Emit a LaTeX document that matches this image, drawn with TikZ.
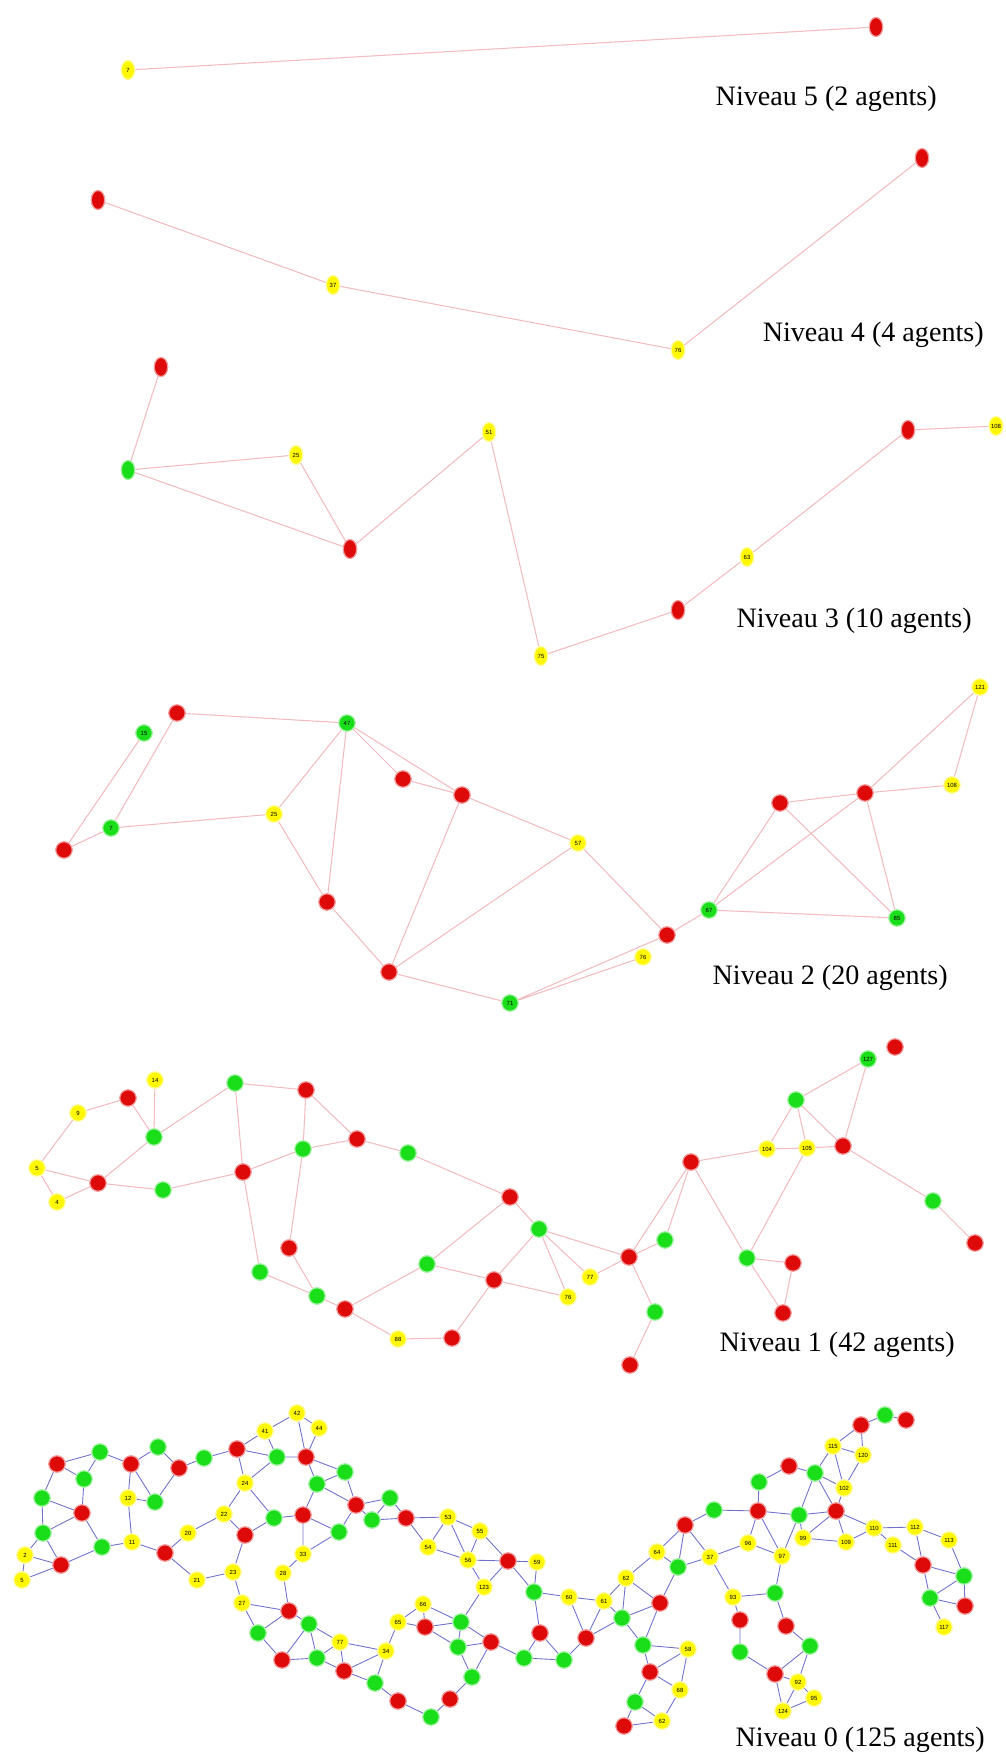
\documentclass[tikz,border=0pt]{standalone}
\usepackage{fontspec}
\setmainfont{Liberation Serif}
\setsansfont{Liberation Sans}
\usetikzlibrary{shapes.geometric, backgrounds}

\definecolor{agentred}{RGB}{222,10,10}
\definecolor{agentgreen}{RGB}{25,222,25}
\definecolor{agentyellow}{RGB}{255,248,0}
\definecolor{linkpink}{RGB}{242,188,192}
\definecolor{linkblue}{RGB}{112,112,205}

\begin{document}
\begin{tikzpicture}[
  x=0.02cm, y=-0.02cm,
  agent/.style={
    circle,
    inner sep=0pt,
    minimum size=0.33cm,
    line width=0.7pt,
    font=\sffamily\fontsize{3.4}{3.4}\selectfont
  },
  rouge/.style={agent, fill=agentred, draw=agentred!40},
  vert/.style={agent, fill=agentgreen, draw=agentgreen!40},
  jaune/.style={agent, fill=agentyellow, draw=agentyellow!40},
  haut/.style={ellipse, minimum width=0.27cm, minimum height=0.38cm},
  lienrose/.style={draw=linkpink, line width=0.6pt},
  lienbleu/.style={draw=linkblue, line width=0.5pt},
  niveau/.style={anchor=east, inner sep=0pt, font=\fontsize{16}{18}\selectfont}
]
\useasboundingbox (0,0) rectangle (1005,1757);

% Niveau 5
\node[jaune, haut] (n5-7) at (128,70) {7};
\node[rouge, haut] (n5-r1) at (876,27) {};
\node[niveau] (titre5) at (937,99) {Niveau 5 (2 agents)};

% Niveau 4
\node[rouge, haut] (n4-r1) at (98,200) {};
\node[jaune, haut] (n4-37) at (333,285) {37};
\node[jaune, haut] (n4-76) at (678,350) {76};
\node[rouge, haut] (n4-r2) at (922,158) {};
\node[niveau] (titre4) at (984,335) {Niveau 4 (4 agents)};

% Niveau 3
\node[rouge, haut] (n3-r1) at (161,367) {};
\node[vert, haut] (n3-g1) at (128,470) {};
\node[jaune, haut] (n3-25) at (296,455) {25};
\node[rouge, haut] (n3-r2) at (350,549) {};
\node[jaune, haut] (n3-51) at (489,432) {51};
\node[jaune, haut] (n3-75) at (541,656) {75};
\node[rouge, haut] (n3-r3) at (678,610) {};
\node[jaune, haut] (n3-63) at (747,557) {63};
\node[rouge, haut] (n3-r4) at (908,430) {};
\node[jaune, haut] (n3-108) at (996,426) {108};
\node[niveau] (titre3) at (972,621) {Niveau 3 (10 agents)};

% Niveau 2
\node[rouge] (n2-r1) at (177,713) {};
\node[vert] (n2-15) at (144,733) {15};
\node[vert] (n2-7) at (111,828) {7};
\node[rouge] (n2-r2) at (64,850) {};
\node[jaune] (n2-25) at (274,814) {25};
\node[vert] (n2-47) at (347,723) {47};
\node[rouge] (n2-r3) at (403,779) {};
\node[rouge] (n2-r4) at (462,795) {};
\node[rouge] (n2-r5) at (327,902) {};
\node[rouge] (n2-r6) at (389,972) {};
\node[vert] (n2-71) at (510,1003) {71};
\node[jaune] (n2-57) at (578,843) {57};
\node[rouge] (n2-r7) at (667,935) {};
\node[jaune] (n2-76) at (643,957) {76};
\node[vert] (n2-67) at (709,910) {67};
\node[rouge] (n2-r8) at (780,803) {};
\node[rouge] (n2-r9) at (865,793) {};
\node[jaune] (n2-108) at (952,785) {108};
\node[jaune] (n2-121) at (980,687) {121};
\node[vert] (n2-85) at (897,918) {85};
\node[niveau] (titre2) at (948,978) {Niveau 2 (20 agents)};

% Niveau 1
\node[jaune] (n1-14) at (155,1080) {14};
\node[rouge] (n1-r1) at (128,1098) {};
\node[jaune] (n1-9) at (78,1113) {9};
\node[vert] (n1-g1) at (154,1137) {};
\node[jaune] (n1-5) at (37,1168) {5};
\node[rouge] (n1-r2) at (98,1183) {};
\node[jaune] (n1-4) at (57,1202) {4};
\node[vert] (n1-g2) at (163,1190) {};
\node[vert] (n1-g3) at (235,1083) {};
\node[rouge] (n1-r3) at (306,1090) {};
\node[vert] (n1-g4) at (303,1149) {};
\node[rouge] (n1-r4) at (357,1139) {};
\node[vert] (n1-g5) at (408,1153) {};
\node[rouge] (n1-r5) at (243,1172) {};
\node[rouge] (n1-r6) at (510,1197) {};
\node[rouge] (n1-r7) at (289,1248) {};
\node[vert] (n1-g6) at (260,1272) {};
\node[vert] (n1-g7) at (317,1296) {};
\node[rouge] (n1-r8) at (345,1309) {};
\node[jaune] (n1-88) at (398,1339) {88};
\node[rouge] (n1-r9) at (452,1338) {};
\node[vert] (n1-g8) at (427,1264) {};
\node[rouge] (n1-r10) at (494,1280) {};
\node[vert] (n1-g9) at (539,1229) {};
\node[jaune] (n1-77) at (590,1277) {77};
\node[jaune] (n1-76) at (568,1297) {76};
\node[rouge] (n1-r11) at (629,1257) {};
\node[vert] (n1-g10) at (665,1240) {};
\node[vert] (n1-g11) at (655,1312) {};
\node[rouge] (n1-r12) at (630,1365) {};
\node[rouge] (n1-r13) at (691,1162) {};
\node[jaune] (n1-104) at (767,1149) {104};
\node[jaune] (n1-105) at (807,1148) {105};
\node[rouge] (n1-r14) at (843,1146) {};
\node[vert] (n1-g12) at (796,1100) {};
\node[vert] (n1-127) at (868,1059) {127};
\node[rouge] (n1-r15) at (895,1047) {};
\node[vert] (n1-g14) at (933,1201) {};
\node[rouge] (n1-r16) at (975,1243) {};
\node[vert] (n1-g15) at (747,1258) {};
\node[rouge] (n1-r17) at (793,1263) {};
\node[rouge] (n1-r18) at (783,1313) {};
\node[niveau] (titre1) at (955,1345) {Niveau 1 (42 agents)};

% Niveau 0, bloc gauche
\node[rouge] (n0-r1) at (57,1464) {};
\node[vert] (n0-g1) at (100,1452) {};
\node[vert] (n0-g2) at (84,1479) {};
\node[rouge] (n0-r2) at (131,1464) {};
\node[vert] (n0-g3) at (158,1447) {};
\node[rouge] (n0-r3) at (179,1468) {};
\node[vert] (n0-g4) at (204,1458) {};
\node[rouge] (n0-r4) at (237,1449) {};
\node[vert] (n0-g5) at (42,1498) {};
\node[rouge] (n0-r5) at (82,1513) {};
\node[jaune] (n0-12) at (128,1498) {12};
\node[vert] (n0-g6) at (155,1502) {};
\node[vert] (n0-g7) at (43,1533) {};
\node[jaune] (n0-2) at (25,1555) {2};
\node[rouge] (n0-r6) at (61,1565) {};
\node[jaune] (n0-5) at (22,1580) {5};
\node[vert] (n0-g8) at (102,1547) {};
\node[jaune] (n0-11) at (132,1542) {11};
\node[rouge] (n0-r7) at (165,1553) {};
\node[jaune] (n0-20) at (188,1533) {20};
\node[jaune] (n0-22) at (224,1514) {22};
\node[jaune] (n0-24) at (245,1483) {24};
\node[rouge] (n0-r8) at (245,1535) {};
\node[jaune] (n0-21) at (197,1580) {21};
\node[jaune] (n0-23) at (233,1572) {23};
\node[jaune] (n0-27) at (242,1603) {27};
\node[vert] (n0-g9) at (258,1633) {};

% Niveau 0, bloc central gauche
\node[jaune] (n0-42) at (297,1413) {42};
\node[jaune] (n0-41) at (265,1431) {41};
\node[jaune] (n0-44) at (319,1428) {44};
\node[vert] (n0-g10) at (277,1457) {};
\node[rouge] (n0-r9) at (306,1457) {};
\node[vert] (n0-g11) at (345,1472) {};
\node[vert] (n0-g12) at (317,1484) {};
\node[rouge] (n0-r10) at (356,1505) {};
\node[vert] (n0-g13) at (390,1498) {};
\node[vert] (n0-g14) at (274,1518) {};
\node[rouge] (n0-r11) at (303,1515) {};
\node[vert] (n0-g15) at (372,1520) {};
\node[vert] (n0-g16) at (339,1532) {};
\node[rouge] (n0-r12) at (406,1518) {};
\node[jaune] (n0-53) at (448,1517) {53};
\node[jaune] (n0-55) at (480,1531) {55};
\node[jaune] (n0-54) at (428,1547) {54};
\node[jaune] (n0-56) at (468,1560) {56};
\node[rouge] (n0-r13) at (508,1561) {};
\node[jaune] (n0-123) at (484,1587) {123};
\node[jaune] (n0-33) at (303,1554) {33};
\node[jaune] (n0-28) at (283,1573) {28};
\node[rouge] (n0-r14) at (289,1611) {};
\node[vert] (n0-g17) at (309,1624) {};
\node[jaune] (n0-77) at (340,1642) {77};
\node[jaune] (n0-34) at (386,1651) {34};
\node[jaune] (n0-65) at (398,1622) {65};
\node[jaune] (n0-66) at (423,1604) {66};
\node[rouge] (n0-r15) at (425,1627) {};
\node[vert] (n0-g18) at (461,1622) {};
\node[rouge] (n0-r16) at (491,1642) {};
\node[vert] (n0-g19) at (458,1647) {};
\node[rouge] (n0-r17) at (282,1660) {};
\node[vert] (n0-g20) at (317,1658) {};
\node[rouge] (n0-r18) at (344,1671) {};
\node[vert] (n0-g21) at (375,1683) {};
\node[vert] (n0-g22) at (472,1677) {};
\node[rouge] (n0-r19) at (398,1701) {};
\node[rouge] (n0-r20) at (450,1699) {};
\node[vert] (n0-g23) at (431,1717) {};

% Niveau 0, bloc central droit
\node[jaune] (n0-59) at (537,1562) {59};
\node[vert] (n0-g24) at (534,1592) {};
\node[jaune] (n0-60) at (569,1597) {60};
\node[jaune] (n0-61) at (604,1601) {61};
\node[jaune] (n0-62) at (626,1578) {62};
\node[jaune] (n0-64) at (657,1552) {64};
\node[rouge] (n0-r21) at (685,1525) {};
\node[vert] (n0-g25) at (714,1510) {};
\node[vert] (n0-g26) at (678,1567) {};
\node[jaune] (n0-37) at (710,1557) {37};
\node[rouge] (n0-r22) at (660,1603) {};
\node[vert] (n0-g27) at (622,1618) {};
\node[rouge] (n0-r23) at (540,1633) {};
\node[rouge] (n0-r24) at (586,1638) {};
\node[vert] (n0-g28) at (524,1658) {};
\node[vert] (n0-g29) at (564,1660) {};
\node[vert] (n0-g30) at (643,1645) {};
\node[jaune] (n0-58) at (688,1649) {58};
\node[rouge] (n0-r25) at (650,1672) {};
\node[jaune] (n0-68) at (680,1690) {68};
\node[vert] (n0-g31) at (635,1702) {};
\node[jaune] (n0-62b) at (662,1721) {62};
\node[rouge] (n0-r26) at (624,1726) {};
\node[vert] (n0-g32) at (759,1482) {};
\node[rouge] (n0-r27) at (758,1511) {};
\node[jaune] (n0-96) at (748,1543) {96};
\node[jaune] (n0-93) at (733,1597) {93};
\node[rouge] (n0-r28) at (740,1620) {};
\node[vert] (n0-g33) at (740,1652) {};

% Niveau 0, bloc droit
\node[vert] (n0-g34) at (885,1415) {};
\node[rouge] (n0-r29) at (906,1420) {};
\node[rouge] (n0-r30) at (861,1425) {};
\node[jaune] (n0-115) at (833,1446) {115};
\node[jaune] (n0-120) at (863,1455) {120};
\node[rouge] (n0-r31) at (789,1466) {};
\node[vert] (n0-g35) at (815,1473) {};
\node[jaune] (n0-102) at (844,1488) {102};
\node[vert] (n0-g36) at (799,1515) {};
\node[rouge] (n0-r32) at (836,1511) {};
\node[jaune] (n0-99) at (803,1538) {99};
\node[jaune] (n0-109) at (846,1542) {109};
\node[jaune] (n0-110) at (874,1528) {110};
\node[jaune] (n0-112) at (915,1527) {112};
\node[jaune] (n0-111) at (893,1545) {111};
\node[jaune] (n0-113) at (949,1540) {113};
\node[jaune] (n0-97) at (782,1556) {97};
\node[rouge] (n0-r33) at (923,1565) {};
\node[vert] (n0-g37) at (964,1576) {};
\node[vert] (n0-g38) at (930,1598) {};
\node[rouge] (n0-r34) at (965,1606) {};
\node[jaune] (n0-117) at (944,1627) {117};
\node[vert] (n0-g39) at (775,1593) {};
\node[rouge] (n0-r35) at (786,1626) {};
\node[vert] (n0-g40) at (810,1646) {};
\node[rouge] (n0-r36) at (775,1674) {};
\node[jaune] (n0-92) at (798,1682) {92};
\node[jaune] (n0-95) at (814,1698) {95};
\node[jaune] (n0-124) at (783,1711) {124};
\node[niveau] (titre0) at (985,1740) {Niveau 0 (125 agents)};

% Liens
\begin{scope}[on background layer]
\draw[lienrose] (n5-7) -- (n5-r1);
\draw[lienrose] (n4-r1) -- (n4-37) (n4-37) -- (n4-76) (n4-76) -- (n4-r2);
\draw[lienrose] (n3-r1) -- (n3-g1) (n3-g1) -- (n3-25) (n3-g1) -- (n3-r2) (n3-25) -- (n3-r2)
  (n3-r2) -- (n3-51) (n3-51) -- (n3-75) (n3-75) -- (n3-r3) (n3-r3) -- (n3-63)
  (n3-63) -- (n3-r4) (n3-r4) -- (n3-108);
\draw[lienrose] (n2-r2) -- (n2-15) (n2-r2) -- (n2-7) (n2-7) -- (n2-r1) (n2-7) -- (n2-25)
  (n2-r1) -- (n2-47) (n2-47) -- (n2-25) (n2-47) -- (n2-r5) (n2-47) -- (n2-r3)
  (n2-47) -- (n2-r4) (n2-r3) -- (n2-r4) (n2-25) -- (n2-r5) (n2-r5) -- (n2-r6)
  (n2-r4) -- (n2-r6) (n2-r4) -- (n2-57) (n2-57) -- (n2-r6) (n2-57) -- (n2-r7)
  (n2-r6) -- (n2-71) (n2-71) -- (n2-76) (n2-71) -- (n2-r7) (n2-r7) -- (n2-67)
  (n2-67) -- (n2-r8) (n2-67) -- (n2-r9) (n2-67) -- (n2-85) (n2-r8) -- (n2-r9)
  (n2-r8) -- (n2-85) (n2-r9) -- (n2-85) (n2-r9) -- (n2-108) (n2-r9) -- (n2-121)
  (n2-108) -- (n2-121);
\draw[lienrose] (n1-14) -- (n1-g1) (n1-r1) -- (n1-9) (n1-r1) -- (n1-g1) (n1-9) -- (n1-5)
  (n1-5) -- (n1-r2) (n1-5) -- (n1-4) (n1-4) -- (n1-r2) (n1-r2) -- (n1-g1)
  (n1-r2) -- (n1-g2) (n1-g2) -- (n1-r5) (n1-g1) -- (n1-g3) (n1-g3) -- (n1-r3)
  (n1-g3) -- (n1-r5) (n1-r3) -- (n1-g4) (n1-r3) -- (n1-r4) (n1-r5) -- (n1-g4)
  (n1-g4) -- (n1-r4) (n1-r4) -- (n1-g5) (n1-g5) -- (n1-r6) (n1-r5) -- (n1-g6)
  (n1-g4) -- (n1-r7) (n1-g6) -- (n1-g7) (n1-r7) -- (n1-g7) (n1-g7) -- (n1-r8)
  (n1-r8) -- (n1-88) (n1-88) -- (n1-r9) (n1-r8) -- (n1-g8) (n1-g8) -- (n1-r10)
  (n1-r9) -- (n1-r10) (n1-r6) -- (n1-g8) (n1-r6) -- (n1-g9) (n1-g9) -- (n1-r11)
  (n1-g9) -- (n1-77) (n1-g9) -- (n1-76) (n1-g9) -- (n1-r10) (n1-r10) -- (n1-76)
  (n1-77) -- (n1-r11) (n1-r11) -- (n1-g10) (n1-r11) -- (n1-g11) (n1-r11) -- (n1-r13)
  (n1-g11) -- (n1-r12) (n1-g10) -- (n1-r13) (n1-r13) -- (n1-104) (n1-r13) -- (n1-g15)
  (n1-104) -- (n1-105) (n1-104) -- (n1-g12) (n1-105) -- (n1-g12) (n1-105) -- (n1-r14)
  (n1-g12) -- (n1-r14) (n1-g12) -- (n1-127) (n1-127) -- (n1-r14) (n1-105) -- (n1-g15)
  (n1-r14) -- (n1-g14) (n1-g14) -- (n1-r16) (n1-g15) -- (n1-r17) (n1-g15) -- (n1-r18)
  (n1-r17) -- (n1-r18);
% niveau 0
\draw[lienbleu] (n0-r1) -- (n0-g1) (n0-r1) -- (n0-g2) (n0-r1) -- (n0-g5) (n0-g1) -- (n0-g2)
  (n0-g1) -- (n0-r2) (n0-g2) -- (n0-r5) (n0-r2) -- (n0-g3) (n0-r2) -- (n0-12)
  (n0-r2) -- (n0-g6) (n0-g3) -- (n0-r3) (n0-r3) -- (n0-g6) (n0-r3) -- (n0-g4)
  (n0-g4) -- (n0-r4) (n0-12) -- (n0-g6) (n0-12) -- (n0-11) (n0-g5) -- (n0-r5)
  (n0-g5) -- (n0-g7) (n0-r5) -- (n0-g7) (n0-r5) -- (n0-g8) (n0-g7) -- (n0-2)
  (n0-g7) -- (n0-r6) (n0-2) -- (n0-r6) (n0-2) -- (n0-5) (n0-5) -- (n0-r6)
  (n0-r6) -- (n0-g8) (n0-g8) -- (n0-11) (n0-11) -- (n0-r7) (n0-r7) -- (n0-20)
  (n0-r7) -- (n0-21) (n0-20) -- (n0-22) (n0-22) -- (n0-24) (n0-22) -- (n0-r8)
  (n0-24) -- (n0-r4) (n0-r8) -- (n0-23) (n0-21) -- (n0-23) (n0-23) -- (n0-27)
  (n0-27) -- (n0-g9) (n0-r4) -- (n0-41) (n0-r4) -- (n0-g10) (n0-24) -- (n0-g10)
  (n0-24) -- (n0-g14) (n0-r8) -- (n0-g14);
\draw[lienbleu] (n0-41) -- (n0-42) (n0-42) -- (n0-44) (n0-42) -- (n0-r9) (n0-44) -- (n0-r9)
  (n0-41) -- (n0-g10) (n0-g10) -- (n0-r9) (n0-r9) -- (n0-g11) (n0-r9) -- (n0-g12)
  (n0-g11) -- (n0-g12) (n0-g11) -- (n0-r10) (n0-g12) -- (n0-r10) (n0-g12) -- (n0-r11)
  (n0-r10) -- (n0-g13) (n0-r10) -- (n0-g15) (n0-r10) -- (n0-g16) (n0-g13) -- (n0-r12)
  (n0-g13) -- (n0-g15) (n0-g15) -- (n0-r12) (n0-g14) -- (n0-r11) (n0-r11) -- (n0-g16)
  (n0-r11) -- (n0-33) (n0-g16) -- (n0-33) (n0-r12) -- (n0-53) (n0-r12) -- (n0-54)
  (n0-53) -- (n0-54) (n0-53) -- (n0-55) (n0-53) -- (n0-56) (n0-54) -- (n0-56)
  (n0-55) -- (n0-56) (n0-55) -- (n0-r13) (n0-56) -- (n0-r13) (n0-56) -- (n0-123)
  (n0-r13) -- (n0-123) (n0-33) -- (n0-28) (n0-28) -- (n0-r14) (n0-r14) -- (n0-27)
  (n0-r14) -- (n0-g17) (n0-r14) -- (n0-g9) (n0-g9) -- (n0-r17) (n0-g17) -- (n0-r17)
  (n0-g17) -- (n0-g20) (n0-g17) -- (n0-77) (n0-r17) -- (n0-g20) (n0-g20) -- (n0-77)
  (n0-g20) -- (n0-r18) (n0-77) -- (n0-r18) (n0-77) -- (n0-34) (n0-r18) -- (n0-34)
  (n0-r18) -- (n0-g21) (n0-g21) -- (n0-34) (n0-g21) -- (n0-r19) (n0-34) -- (n0-65)
  (n0-65) -- (n0-66) (n0-65) -- (n0-r15) (n0-66) -- (n0-r15) (n0-66) -- (n0-g18)
  (n0-r15) -- (n0-g18) (n0-r15) -- (n0-g19) (n0-g18) -- (n0-r16) (n0-g18) -- (n0-g19)
  (n0-g18) -- (n0-123) (n0-g19) -- (n0-r16) (n0-g19) -- (n0-g22) (n0-r16) -- (n0-g22)
  (n0-r16) -- (n0-g28) (n0-g22) -- (n0-r20) (n0-r20) -- (n0-g23) (n0-g23) -- (n0-r19);
\draw[lienbleu] (n0-r13) -- (n0-59) (n0-r13) -- (n0-g24) (n0-59) -- (n0-g24) (n0-g24) -- (n0-60)
  (n0-g24) -- (n0-r23) (n0-60) -- (n0-61) (n0-60) -- (n0-r24) (n0-61) -- (n0-62)
  (n0-61) -- (n0-r24) (n0-61) -- (n0-g27) (n0-62) -- (n0-g27) (n0-62) -- (n0-r22)
  (n0-62) -- (n0-64) (n0-64) -- (n0-r21) (n0-64) -- (n0-g26) (n0-r21) -- (n0-g26)
  (n0-r21) -- (n0-37) (n0-r21) -- (n0-g25) (n0-g26) -- (n0-r22) (n0-g26) -- (n0-37)
  (n0-r22) -- (n0-g27) (n0-r22) -- (n0-g30) (n0-g27) -- (n0-r24) (n0-g27) -- (n0-g30)
  (n0-r23) -- (n0-g28) (n0-r23) -- (n0-g29) (n0-g28) -- (n0-g29) (n0-g29) -- (n0-r24)
  (n0-g30) -- (n0-58) (n0-g30) -- (n0-r25) (n0-r25) -- (n0-58) (n0-r25) -- (n0-68)
  (n0-r25) -- (n0-g31) (n0-58) -- (n0-68) (n0-g31) -- (n0-62b) (n0-g31) -- (n0-r26)
  (n0-62b) -- (n0-r26) (n0-68) -- (n0-62b) (n0-g25) -- (n0-r27) (n0-r27) -- (n0-g32)
  (n0-r27) -- (n0-96) (n0-37) -- (n0-96) (n0-37) -- (n0-93) (n0-93) -- (n0-r28)
  (n0-r28) -- (n0-g33) (n0-93) -- (n0-g39);
\draw[lienbleu] (n0-g34) -- (n0-r29) (n0-g34) -- (n0-r30) (n0-r30) -- (n0-115) (n0-r30) -- (n0-120)
  (n0-115) -- (n0-120) (n0-115) -- (n0-g35) (n0-115) -- (n0-102) (n0-120) -- (n0-102)
  (n0-g35) -- (n0-r31) (n0-g35) -- (n0-102) (n0-g35) -- (n0-g36) (n0-g35) -- (n0-r32)
  (n0-r31) -- (n0-g32) (n0-r27) -- (n0-g36) (n0-g36) -- (n0-r32) (n0-g36) -- (n0-99)
  (n0-g36) -- (n0-97) (n0-r32) -- (n0-99) (n0-r32) -- (n0-109) (n0-r32) -- (n0-110)
  (n0-r32) -- (n0-102) (n0-99) -- (n0-109) (n0-109) -- (n0-110) (n0-110) -- (n0-112)
  (n0-110) -- (n0-111) (n0-111) -- (n0-r33) (n0-112) -- (n0-113) (n0-112) -- (n0-r33)
  (n0-113) -- (n0-g37) (n0-r33) -- (n0-g37) (n0-r33) -- (n0-g38) (n0-g37) -- (n0-g38)
  (n0-g37) -- (n0-r34) (n0-g38) -- (n0-r34) (n0-g38) -- (n0-117) (n0-r27) -- (n0-97)
  (n0-96) -- (n0-97) (n0-97) -- (n0-g39) (n0-g39) -- (n0-r35) (n0-r35) -- (n0-g40)
  (n0-g33) -- (n0-r36) (n0-g40) -- (n0-r36) (n0-g40) -- (n0-92) (n0-r36) -- (n0-92)
  (n0-r36) -- (n0-124) (n0-92) -- (n0-95) (n0-92) -- (n0-124) (n0-95) -- (n0-124);
\end{scope}

\end{tikzpicture}
\end{document}
